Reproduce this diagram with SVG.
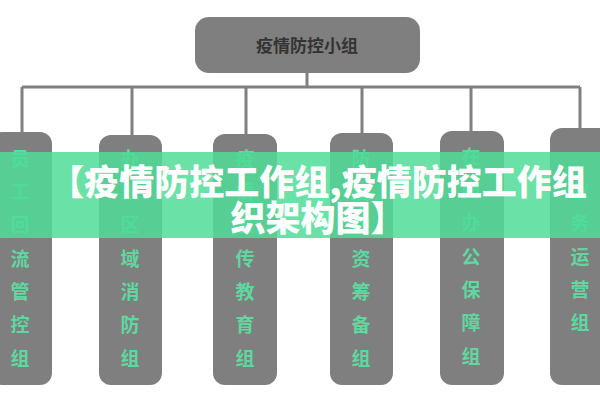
<svg xmlns="http://www.w3.org/2000/svg" width="600" height="400" viewBox="0 0 600 400">
<style>
.b{fill:#7f7f7f}
.t{font-family:"Noto Sans CJK SC",sans-serif;font-weight:bold;font-size:19px;fill:#5ed8a0;text-anchor:middle}
.c{stroke:#808080;stroke-width:3;fill:none}
.h{font-family:"Noto Sans CJK SC",sans-serif;font-weight:900;font-size:35px;fill:#fff;text-anchor:middle}
</style>
<rect width="600" height="400" fill="#fff"/>
<g id="connectors">
<path class="c" d="M307 73V87M22 87H580M22 87V132M132 87V135M246 87V134M362 87V133M471 87V131M580 87V128"/>
</g>
<g id="top"><rect class="b" x="195" y="17" width="225" height="56" rx="14"/>
<text x="307" y="52" font-family="Noto Sans CJK SC,sans-serif" font-weight="bold" font-size="17" fill="#333" text-anchor="middle">疫情防控小组</text></g>
<g id="n1"><rect class="b" x="-10" y="132" width="62" height="253" rx="12"/>
<text class="t" x="20"><tspan y="166">员</tspan><tspan x="20" y="199">工</tspan><tspan x="20" y="232">回</tspan><tspan x="20" y="266">流</tspan><tspan x="20" y="299">管</tspan><tspan x="20" y="332">控</tspan><tspan x="20" y="366">组</tspan></text></g>
<g id="n2"><rect class="b" x="99" y="135" width="63" height="250" rx="12"/>
<text class="t" x="130"><tspan y="166">办</tspan><tspan x="130" y="199">公</tspan><tspan x="130" y="232">区</tspan><tspan x="130" y="266">域</tspan><tspan x="130" y="299">消</tspan><tspan x="130" y="332">防</tspan><tspan x="130" y="366">组</tspan></text></g>
<g id="n3"><rect class="b" x="213" y="134" width="64" height="251" rx="12"/>
<text class="t" x="245"><tspan y="166">疫</tspan><tspan x="245" y="199">情</tspan><tspan x="245" y="232">宣</tspan><tspan x="245" y="266">传</tspan><tspan x="245" y="299">教</tspan><tspan x="245" y="332">育</tspan><tspan x="245" y="366">组</tspan></text></g>
<g id="n4"><rect class="b" x="330" y="133" width="63" height="252" rx="12"/>
<text class="t" x="361"><tspan y="166">防</tspan><tspan x="361" y="199">疫</tspan><tspan x="361" y="232">物</tspan><tspan x="361" y="266">资</tspan><tspan x="361" y="299">筹</tspan><tspan x="361" y="332">备</tspan><tspan x="361" y="366">组</tspan></text></g>
<g id="n5"><rect class="b" x="440" y="131" width="64" height="254" rx="12"/>
<text class="t" x="471"><tspan y="164">在</tspan><tspan x="471" y="197">岗</tspan><tspan x="471" y="230">办</tspan><tspan x="471" y="264">公</tspan><tspan x="471" y="297">保</tspan><tspan x="471" y="330">障</tspan><tspan x="471" y="364">组</tspan></text></g>
<g id="n6"><rect class="b" x="550" y="128" width="62" height="257" rx="12"/>
<text class="t" x="580"><tspan y="197">业</tspan><tspan x="580" y="230">务</tspan><tspan x="580" y="264">运</tspan><tspan x="580" y="297">营</tspan><tspan x="580" y="330">组</tspan></text></g>
<rect x="0" y="152" width="600" height="86" fill="#4fdc98" opacity="0.85"/>
<text class="h"><tspan x="318" y="195">【疫情防控工作组,疫情防控工作组</tspan><tspan x="318" y="231">织架构图】</tspan></text>
</svg>
